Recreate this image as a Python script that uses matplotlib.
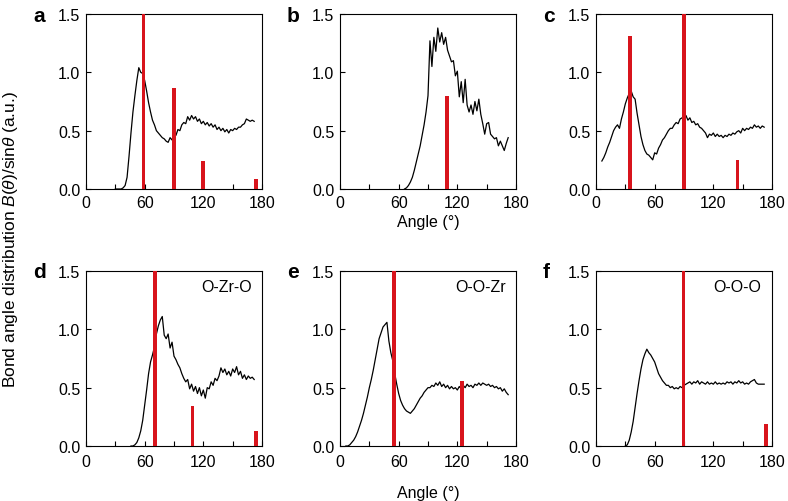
import matplotlib
matplotlib.use("Agg")
import matplotlib.pyplot as plt

plt.rcParams['font.family'] = ['Liberation Sans', 'DejaVu Sans']
plt.rcParams['mathtext.fontset'] = 'custom'
plt.rcParams['mathtext.rm'] = 'Liberation Sans'
plt.rcParams['mathtext.it'] = 'Liberation Sans:italic'

# ---------------- data ----------------
a_x = [30, 32, 34, 36, 38, 40, 42, 44, 46, 48,
       50, 52, 54, 56, 58, 60, 62, 64, 66, 68,
       70, 72, 74, 76, 78, 80, 82, 84, 86, 88,
       90, 92, 94, 96, 98, 100, 102, 104, 106, 108,
       110, 112, 114, 116, 118, 120, 122, 124, 126, 128,
       130, 132, 134, 136, 138, 140, 142, 144, 146, 148,
       150, 152, 154, 156, 158, 160, 162, 164, 166, 168,
       170, 172]
a_y = [0, 0, 0, 0, 0.01, 0.03, 0.10, 0.28, 0.48, 0.66,
       0.80, 0.93, 1.04, 1.00, 0.99, 0.93, 0.84, 0.74, 0.66, 0.59,
       0.55, 0.50, 0.48, 0.46, 0.44, 0.43, 0.41, 0.40, 0.44, 0.42,
       0.47, 0.46, 0.51, 0.50, 0.55, 0.57, 0.56, 0.62, 0.59, 0.63,
       0.60, 0.62, 0.58, 0.60, 0.56, 0.58, 0.55, 0.57, 0.54, 0.56,
       0.53, 0.55, 0.51, 0.53, 0.50, 0.52, 0.49, 0.51, 0.48, 0.51,
       0.50, 0.52, 0.51, 0.53, 0.53, 0.55, 0.56, 0.60, 0.59, 0.58,
       0.59, 0.58]

b_x = [66, 68, 70, 72, 74, 76, 78, 80, 82, 84, 86, 88, 90,
       92, 94, 96, 98, 100, 102, 104, 106, 108, 110,
       112, 114, 116, 118, 120, 122, 124, 126, 128, 130,
       132, 134, 136, 138, 140, 142, 144, 146, 148, 150,
       152, 154, 156, 158, 160, 162, 164, 166, 168, 170,
       172]
b_y = [0, 0.01, 0.03, 0.06, 0.10, 0.16, 0.23, 0.30, 0.37, 0.46, 0.55, 0.66, 0.80,
       1.27, 1.05, 1.30, 1.18, 1.38, 1.26, 1.34, 1.24, 1.30, 1.19,
       1.14, 1.09, 1.10, 0.97, 1.01, 0.79, 0.92, 0.74, 0.94, 0.72,
       0.66, 0.72, 0.64, 0.75, 0.67, 0.77, 0.64, 0.56, 0.47, 0.56,
       0.57, 0.47, 0.45, 0.43, 0.44, 0.37, 0.41, 0.37, 0.33, 0.39,
       0.44]

c_x = [6, 8, 10, 12, 14, 16, 18, 20, 22, 24,
       26, 28, 30, 32, 34, 36, 38, 40, 42, 44,
       46, 48, 50, 52, 54, 56, 58, 60, 62, 64,
       66, 68, 70, 72, 74, 76, 78, 80, 82, 84,
       86, 88, 90, 92, 94, 96, 98, 100, 102, 104,
       106, 108, 110, 112, 114, 116, 118, 120, 122, 124,
       126, 128, 130, 132, 134, 136, 138, 140, 142, 144,
       146, 148, 150, 152, 154, 156, 158, 160, 162, 164,
       166, 168, 170, 172]
c_y = [0.24, 0.27, 0.31, 0.36, 0.40, 0.45, 0.50, 0.53, 0.55, 0.52,
       0.60, 0.66, 0.73, 0.78, 0.82, 0.84, 0.79, 0.77, 0.65, 0.55,
       0.45, 0.38, 0.33, 0.30, 0.29, 0.27, 0.25, 0.31, 0.30, 0.35,
       0.38, 0.42, 0.44, 0.47, 0.50, 0.52, 0.52, 0.55, 0.57, 0.56,
       0.60, 0.61, 0.62, 0.63, 0.59, 0.61, 0.57, 0.58, 0.55, 0.56,
       0.53, 0.52, 0.50, 0.48, 0.44, 0.47, 0.46, 0.48, 0.45, 0.47,
       0.45, 0.46, 0.44, 0.46, 0.45, 0.47, 0.46, 0.48, 0.47, 0.49,
       0.50, 0.48, 0.52, 0.50, 0.52, 0.51, 0.53, 0.52, 0.55, 0.53,
       0.54, 0.52, 0.54, 0.53]

d_x = [46, 48, 50, 52, 54, 56, 58, 60, 62, 64,
       66, 68, 70, 72, 74, 76, 78, 80, 82, 84,
       86, 88, 90, 92, 94, 96, 98, 100, 102, 104,
       106, 108, 110, 112, 114, 116, 118, 120, 122, 124,
       126, 128, 130, 132, 134, 136, 138, 140, 142, 144,
       146, 148, 150, 152, 154, 156, 158, 160, 162, 164,
       166, 168, 170, 172]
d_y = [0, 0, 0.01, 0.03, 0.07, 0.13, 0.22, 0.35, 0.48, 0.62,
       0.72, 0.78, 0.85, 0.96, 1.03, 1.08, 1.11, 0.95, 0.92, 0.96,
       0.84, 0.89, 0.77, 0.74, 0.70, 0.67, 0.62, 0.58, 0.55, 0.57,
       0.49, 0.53, 0.47, 0.51, 0.45, 0.50, 0.43, 0.48, 0.41, 0.50,
       0.49, 0.55, 0.52, 0.58, 0.56, 0.60, 0.67, 0.63, 0.66, 0.61,
       0.64, 0.60, 0.66, 0.63, 0.68, 0.61, 0.64, 0.58, 0.61, 0.57,
       0.60, 0.58, 0.59, 0.57]

e_x = [6, 8, 10, 12, 14, 16, 18, 20, 22, 24,
       26, 28, 30, 32, 34, 36, 38, 40, 42, 44,
       46, 48, 50, 52, 54, 56, 58, 60, 62, 64,
       66, 68, 70, 72, 74, 76, 78, 80, 82, 84,
       86, 88, 90, 92, 94, 96, 98, 100, 102, 104,
       106, 108, 110, 112, 114, 116, 118, 120, 122, 124,
       126, 128, 130, 132, 134, 136, 138, 140, 142, 144,
       146, 148, 150, 152, 154, 156, 158, 160, 162, 164,
       166, 168, 170, 172]
e_y = [0, 0, 0.01, 0.03, 0.05, 0.08, 0.12, 0.17, 0.22, 0.28,
       0.35, 0.42, 0.50, 0.57, 0.65, 0.74, 0.83, 0.92, 0.97, 1.02,
       1.04, 1.06, 0.90, 0.80, 0.73, 0.62, 0.53, 0.45, 0.39, 0.35,
       0.32, 0.30, 0.29, 0.28, 0.30, 0.32, 0.35, 0.38, 0.41, 0.43,
       0.46, 0.48, 0.50, 0.50, 0.52, 0.51, 0.54, 0.52, 0.55, 0.51,
       0.53, 0.50, 0.52, 0.49, 0.51, 0.49, 0.50, 0.48, 0.51, 0.49,
       0.52, 0.50, 0.53, 0.51, 0.52, 0.50, 0.53, 0.52, 0.54, 0.52,
       0.54, 0.53, 0.52, 0.53, 0.51, 0.52, 0.50, 0.51, 0.49, 0.50,
       0.47, 0.49, 0.46, 0.44]

f_x = [30, 32, 34, 36, 38, 40, 42, 44, 46, 48,
       50, 52, 54, 56, 58, 60, 62, 64, 66, 68,
       70, 72, 74, 76, 78, 80, 82, 84, 86, 88,
       90, 92, 94, 96, 98, 100, 102, 104, 106, 108,
       110, 112, 114, 116, 118, 120, 122, 124, 126, 128,
       130, 132, 134, 136, 138, 140, 142, 144, 146, 148,
       150, 152, 154, 156, 158, 160, 162, 164, 166, 168,
       170, 172]
f_y = [0, 0.01, 0.05, 0.12, 0.21, 0.33, 0.45, 0.56, 0.66, 0.74,
       0.79, 0.83, 0.80, 0.78, 0.75, 0.72, 0.67, 0.62, 0.59, 0.56,
       0.54, 0.52, 0.52, 0.50, 0.51, 0.49, 0.50, 0.49, 0.51, 0.50,
       0.52, 0.53, 0.54, 0.55, 0.53, 0.55, 0.54, 0.56, 0.53, 0.55,
       0.54, 0.53, 0.55, 0.53, 0.54, 0.53, 0.55, 0.53, 0.54, 0.53,
       0.54, 0.53, 0.55, 0.54, 0.55, 0.53, 0.55, 0.54, 0.56, 0.54,
       0.55, 0.53, 0.54, 0.53, 0.55, 0.56, 0.57, 0.54, 0.53, 0.53,
       0.53, 0.53]

a_bar_pos = [59, 90, 119.5, 174]
a_bar_h = [1.6, 0.87, 0.24, 0.09]
b_bar_pos = [109.5]
b_bar_h = [0.80]
c_bar_pos = [35, 90, 144.5]
c_bar_h = [1.31, 1.6, 0.25]
d_bar_pos = [70.5, 109, 174]
d_bar_h = [1.6, 0.34, 0.13]
e_bar_pos = [55, 125]
e_bar_h = [1.6, 0.56]
f_bar_pos = [89.5, 174]
f_bar_h = [1.6, 0.19]

panel_letters = ['a', 'b', 'c', 'd', 'e', 'f']
panel_titles = ['', '', '', 'O-Zr-O', 'O-O-Zr', 'O-O-O']
x_ticks = [0, 30, 60, 90, 120, 150, 180]
x_ticklabels = ['0', '', '60', '', '120', '', '180']
y_ticks = [0.0, 0.5, 1.0, 1.5]
y_ticklabels = ['0.0', '0.5', '1.0', '1.5']

curves = [(a_x, a_y), (b_x, b_y), (c_x, c_y), (d_x, d_y), (e_x, e_y), (f_x, f_y)]
bars = [(a_bar_pos, a_bar_h), (b_bar_pos, b_bar_h), (c_bar_pos, c_bar_h),
        (d_bar_pos, d_bar_h), (e_bar_pos, e_bar_h), (f_bar_pos, f_bar_h)]

# ---------------- layout ----------------
W, H = 788, 502
fig = plt.figure(figsize=(W / 100, H / 100), dpi=100)
lefts = [86, 340, 596]
tops = [15, 272]
aw, ah = 176, 175
red = '#d8141c'

for i in range(6):
    r, c = divmod(i, 3)
    l = lefts[c]
    t = tops[r]
    ax = fig.add_axes([l / W, (H - t - ah) / H, aw / W, ah / H])
    x, y = curves[i]
    ax.plot(x, y, color='black', lw=0.9, zorder=2)
    bp, bh = bars[i]
    ax.bar(bp, bh, width=3.6, color=red, zorder=3, linewidth=0)
    ax.set_xlim(0, 180)
    ax.set_ylim(0, 1.5)
    ax.set_xticks(x_ticks)
    ax.set_xticklabels(x_ticklabels)
    ax.set_yticks(y_ticks)
    ax.set_yticklabels(y_ticklabels)
    ax.tick_params(direction='in', length=3.5, width=0.8, labelsize=11.5,
                   pad=4, top=False, right=False)
    if r == 1:
        ax.tick_params(axis='x', pad=6)
    for s in ax.spines.values():
        s.set_linewidth(0.8)
    fig.text((l - 53) / W, 1 - (t + 1) / H, panel_letters[i], fontsize=15,
             fontweight='bold', ha='left', va='center')
    if panel_titles[i]:
        ax.text(0.94, 0.91, panel_titles[i], transform=ax.transAxes,
                ha='right', va='center', fontsize=11.5)
    if c == 1:
        ax.set_xlabel('Angle (°)', fontsize=11.5, labelpad=3 if r == 0 else 11)

fig.text(11 / W, 1 - 240 / H, 'Bond angle distribution $B(\\theta)$/sin$\\theta$ (a.u.)',
         rotation=90, ha='center', va='center', fontsize=12.5)

fig.savefig('out.png', dpi=100)
